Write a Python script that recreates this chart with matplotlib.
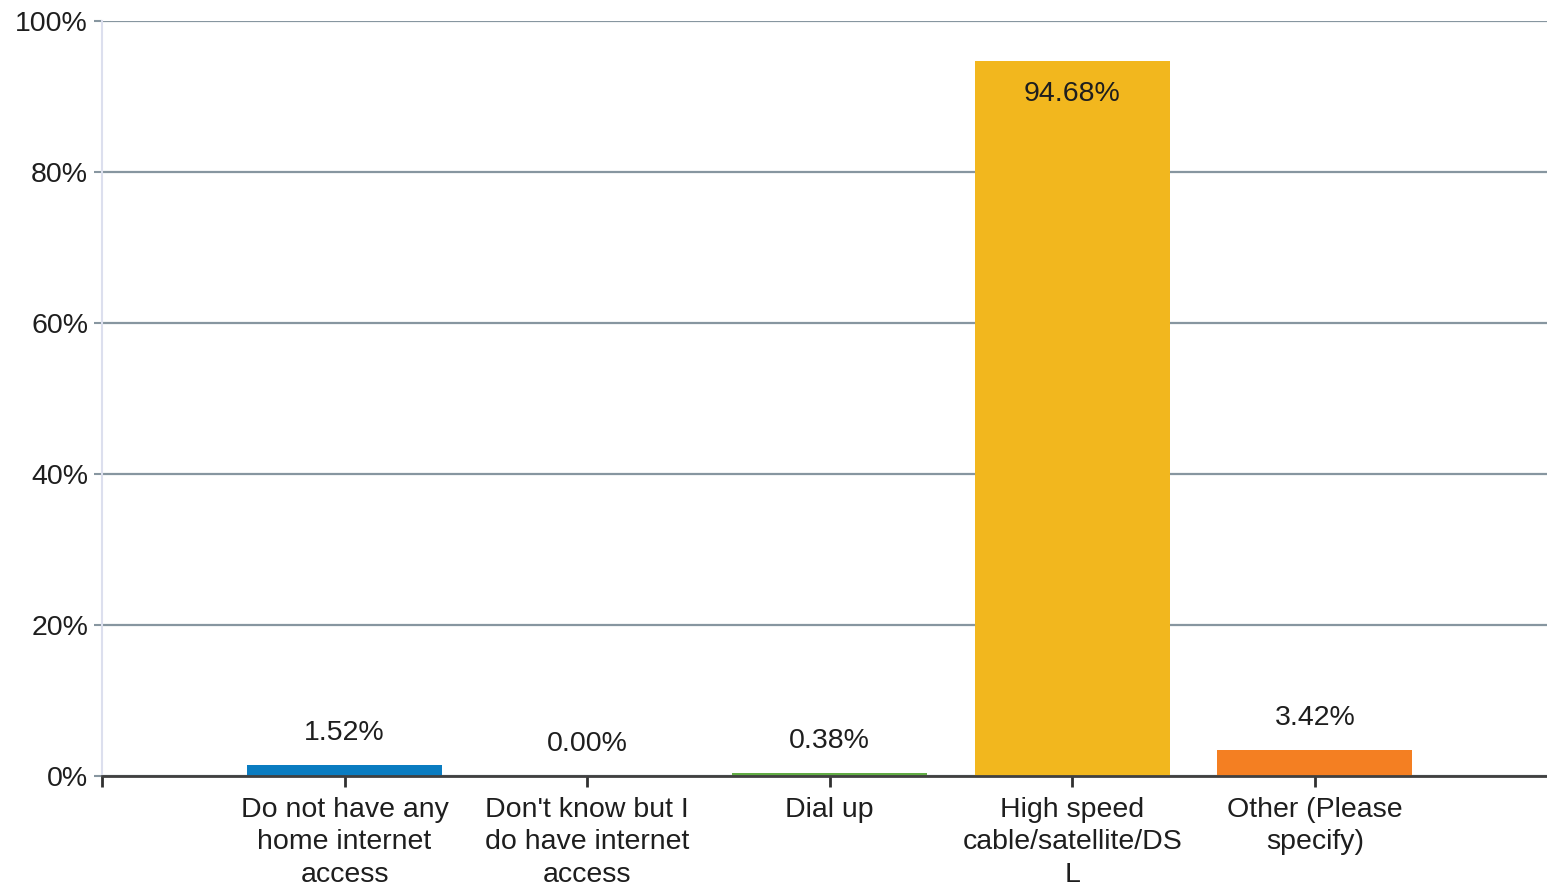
import matplotlib
matplotlib.use("Agg")
import matplotlib.pyplot as plt
import numpy as np

categories = ["Do not have any\nhome internet\naccess",
              "Don't know but I\ndo have internet\naccess",
              "Dial up",
              "High speed\ncable/satellite/DS\nL",
              "Other (Please\nspecify)"]
values = [1.52, 0.00, 0.38, 94.68, 3.42]
colors = ["#0a7cc1", "#1f77b4", "#62ad45", "#f2b71e", "#f47f22"]
yticks = [0, 20, 40, 60, 80, 100]
ytick_labels = ["0%", "20%", "40%", "60%", "80%", "100%"]

plt.rcParams['font.family'] = ['Liberation Sans', 'DejaVu Sans']
FS = 20.5
TXT = "#1e1e1e"

fig = plt.figure(figsize=(15.47, 8.88), dpi=100)
ax = fig.add_axes([102/1547, 1 - 776/888, 1 - 102/1547, (776 - 21)/888])

x = np.arange(len(categories))
bars = ax.bar(x, values, width=0.805, color=colors, zorder=3)

ax.set_ylim(0, 100)
ax.set_xlim(-1, 4.957)
ax.set_yticks(yticks)
ax.set_yticklabels(ytick_labels, fontsize=FS, color=TXT)
ax.set_xticks([-1] + list(x))
ax.set_xticklabels([""] + categories, fontsize=FS, color=TXT, linespacing=1.33)

ax.yaxis.grid(True, color="#8796a0", linewidth=1.6, zorder=0)
ax.set_axisbelow(True)

for s in ["top", "right"]:
    ax.spines[s].set_visible(False)
ax.spines["left"].set_color("#dcdfee")
ax.spines["left"].set_linewidth(1.5)
ax.spines["bottom"].set_color("#404040")
ax.spines["bottom"].set_linewidth(2)
ax.spines["bottom"].set_zorder(4)

ax.tick_params(axis="y", length=6, width=1.5, color="#8796a0", pad=4)
ax.tick_params(axis="x", length=8, width=2, color="#303030", pad=7)

for xi, v in zip(x, values):
    if v > 50:
        ax.annotate(f"{v:.2f}%", (xi, v), xytext=(0, -23.5), textcoords="offset points",
                    ha="center", va="center", fontsize=FS, color=TXT, zorder=5)
    else:
        ax.annotate(f"{v:.2f}%", (xi, v), xytext=(0, 23), textcoords="offset points",
                    ha="center", va="center", fontsize=FS, color=TXT, zorder=5)

fig.savefig("out.png", dpi=100)
